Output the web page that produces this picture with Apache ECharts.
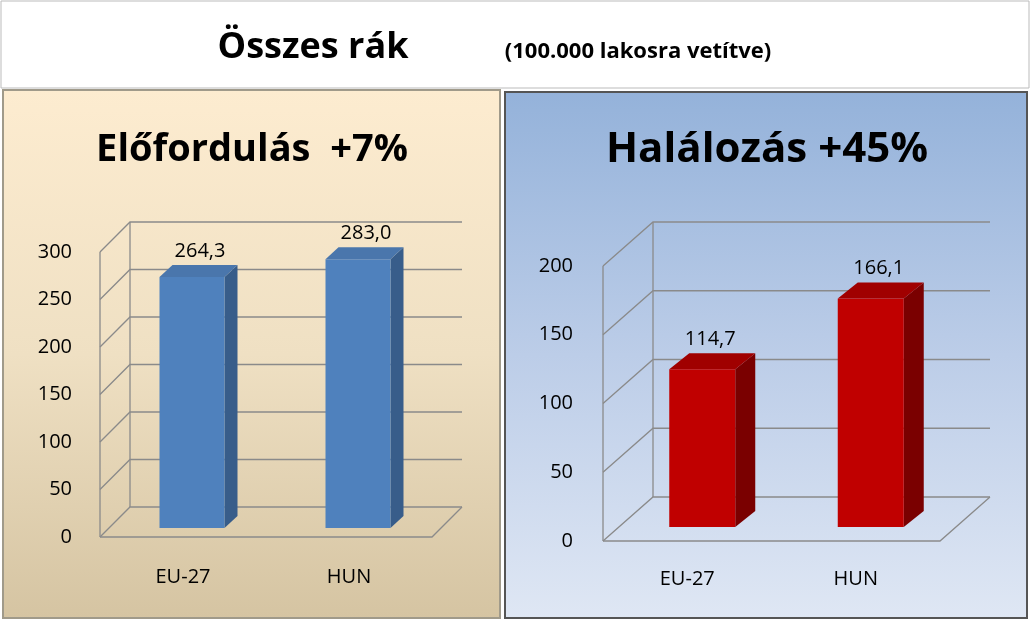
<!DOCTYPE html><html><head><meta charset="utf-8">
<script src="https://cdn.jsdelivr.net/npm/echarts@6/dist/echarts.min.js"></script>
<style>html,body{margin:0;padding:0;background:#fff}#c{width:1031px;height:622px}</style></head><body><div id="c"></div>
<script>
const categories = ['EU-27', 'HUN'];
const incidence = [264.3, 283.0];
const mortality = [114.7, 166.1];
const ticksLeft = [0, 50, 100, 150, 200, 250, 300];
const ticksRight = [0, 50, 100, 150, 200];
const FF = '"Open Sans", "Liberation Sans", sans-serif';
const fmt = v => v.toFixed(1).replace('.', ',');

const chart = echarts.init(document.getElementById('c'));

function gridRender(back) {
  return function (params, api) {
    const cs = params.coordSys;
    const v = api.value(0);
    const p = api.coord([0, v]);
    const x0 = cs.x, y = p[1];
    const pts = [[x0, y], [x0 + back[0], y + back[1]], [cs.x + cs.width + back[0], y + back[1]]];
    const children = [{ type: 'polyline', shape: { points: pts }, style: { stroke: '#8a8a8a', lineWidth: 1.3, fill: null } }];
    if (v === 0) {
      children.push({ type: 'polyline', shape: { points: [[x0, y], [cs.x + cs.width, y], [cs.x + cs.width + back[0], y + back[1]]] }, style: { stroke: '#8a8a8a', lineWidth: 1.3, fill: null } });
      const top = api.coord([0, params.dataInsideLength ? 0 : 0]);
    }
    return { type: 'group', children };
  };
}
function wallRender(back, maxV) {
  return function (params, api) {
    const cs = params.coordSys;
    const a = api.coord([0, 0]), b = api.coord([0, maxV]);
    return { type: 'group', children: [
      { type: 'line', shape: { x1: cs.x, y1: a[1], x2: cs.x, y2: b[1] }, style: { stroke: '#8a8a8a', lineWidth: 1.3 } },
      { type: 'line', shape: { x1: cs.x + back[0], y1: a[1] + back[1], x2: cs.x + back[0], y2: b[1] + back[1] }, style: { stroke: '#8a8a8a', lineWidth: 1.3 } }
    ]};
  };
}
function barRender(off, depth, w, cols) {
  return function (params, api) {
    const i = api.value(0), v = api.value(1);
    const p = api.coord([i, v]), p0 = api.coord([i, 0]);
    const xl = p[0] + off[0] - w / 2, xr = xl + w, yt = p[1] + off[1], yb = p0[1] + off[1];
    const dx = depth[0], dy = depth[1];
    return { type: 'group', children: [
      { type: 'polygon', shape: { points: [[xr, yt], [xr + dx, yt + dy], [xr + dx, yb + dy], [xr, yb]] }, style: { fill: cols[1] } },
      { type: 'polygon', shape: { points: [[xl, yt], [xl + dx, yt + dy], [xr + dx, yt + dy], [xr, yt]] }, style: { fill: cols[2] } },
      { type: 'rect', shape: { x: xl, y: yt, width: w, height: yb - yt }, style: { fill: cols[0] } },
      { type: 'text', style: { text: fmt(v), x: (xl + xr) / 2 + 8, y: yt + dy - 4, align: 'center', verticalAlign: 'bottom', font: '20px ' + FF, fill: '#000' } }
    ]};
  };
}

chart.setOption({
  animation: false,
  graphic: [
    { type: 'rect', shape: { x: 1, y: 1, width: 1028, height: 87 }, style: { fill: '#fff', stroke: '#bbb' } },
    { type: 'rect', shape: { x: 3, y: 90, width: 497, height: 528 }, style: { fill: new echarts.graphic.LinearGradient(0, 0, 0, 1, [{ offset: 0, color: '#fdecd0' }, { offset: 0.5, color: '#efe0c3' }, { offset: 1, color: '#d5c4a2' }]), stroke: '#a09a8a', lineWidth: 2 } },
    { type: 'rect', shape: { x: 505, y: 92, width: 522, height: 526 }, style: { fill: new echarts.graphic.LinearGradient(0, 0, 0, 1, [{ offset: 0, color: '#94b2da' }, { offset: 0.5, color: '#bccde8' }, { offset: 1, color: '#dfe7f4' }]), stroke: '#555', lineWidth: 2 } },
    { type: 'text', style: { text: 'Összes rák', x: 313, y: 48, align: 'center', verticalAlign: 'middle', font: 'bold 36px ' + FF, fill: '#000' } },
    { type: 'text', style: { text: '(100.000 lakosra vetítve)', x: 638, y: 52, align: 'center', verticalAlign: 'middle', font: 'bold 22px ' + FF, fill: '#000' } },
    { type: 'text', style: { text: 'Előfordulás  +7%', x: 252, y: 150, align: 'center', verticalAlign: 'middle', font: 'bold 38px ' + FF, fill: '#000' } },
    { type: 'text', style: { text: 'Halálozás +45%', x: 767, y: 150, align: 'center', verticalAlign: 'middle', font: 'bold 42px ' + FF, fill: '#000' } }
  ],
  grid: [
    { left: 100, width: 332, top: 252, height: 285 },
    { left: 603, width: 337, top: 266, height: 275 }
  ],
  xAxis: [
    { gridIndex: 0, type: 'category', data: categories, axisLine: { show: false }, axisTick: { show: false }, axisLabel: { margin: 30, fontSize: 20, color: '#000', fontFamily: FF } },
    { gridIndex: 1, type: 'category', data: categories, axisLine: { show: false }, axisTick: { show: false }, axisLabel: { margin: 28, fontSize: 20, color: '#000', fontFamily: FF } }
  ],
  yAxis: [
    { gridIndex: 0, type: 'value', min: 0, max: 300, interval: 50, axisLine: { show: false }, axisTick: { show: false }, splitLine: { show: false }, axisLabel: { margin: 28, fontSize: 20, color: '#000', fontFamily: FF } },
    { gridIndex: 1, type: 'value', min: 0, max: 200, interval: 50, axisLine: { show: false }, axisTick: { show: false }, splitLine: { show: false }, axisLabel: { margin: 30, fontSize: 20, color: '#000', fontFamily: FF } }
  ],
  series: [
    { type: 'custom', xAxisIndex: 0, yAxisIndex: 0, data: ticksLeft.map(v => [v]), renderItem: gridRender([30, -30]), silent: true },
    { type: 'custom', xAxisIndex: 0, yAxisIndex: 0, data: [[0]], renderItem: wallRender([30, -30], 300), silent: true },
    { type: 'custom', xAxisIndex: 0, yAxisIndex: 0, data: incidence.map((v, i) => [i, v]), encode: { x: 0, y: 1 }, renderItem: barRender([9, -9], [13, -12], 65, ['#4f81bd', '#385d8a', '#4a76ac']) },
    { type: 'custom', xAxisIndex: 1, yAxisIndex: 1, data: ticksRight.map(v => [v]), renderItem: gridRender([50, -44]), silent: true },
    { type: 'custom', xAxisIndex: 1, yAxisIndex: 1, data: [[0]], renderItem: wallRender([50, -44], 200), silent: true },
    { type: 'custom', xAxisIndex: 1, yAxisIndex: 1, data: mortality.map((v, i) => [i, v]), encode: { x: 0, y: 1 }, renderItem: barRender([15, -14], [20, -16], 66, ['#c00000', '#7a0000', '#a00000']) }
  ]
});
</script></body></html>
